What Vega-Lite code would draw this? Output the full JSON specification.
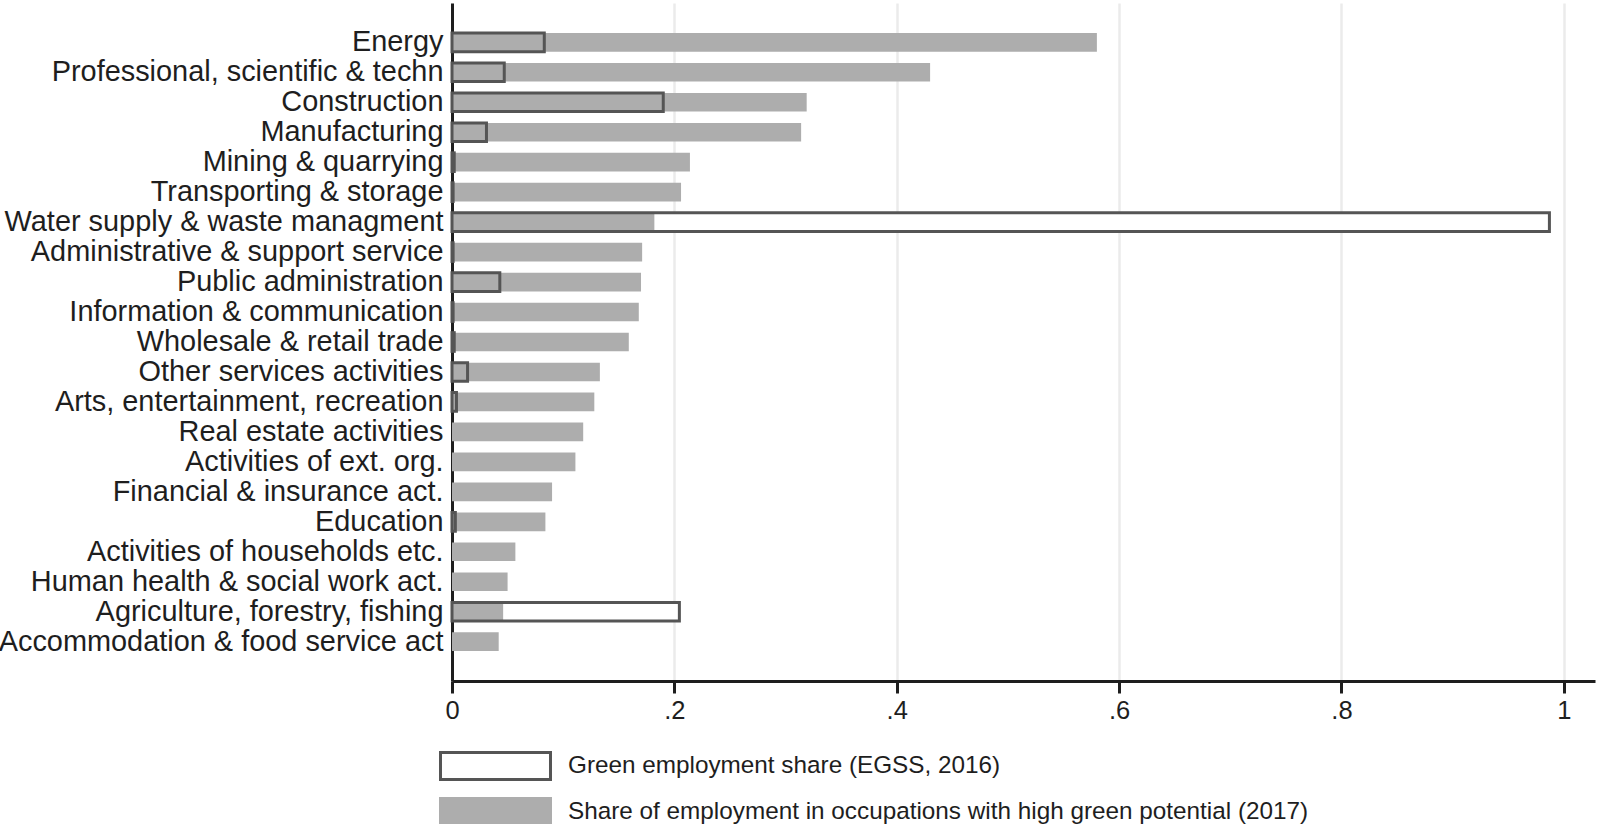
{
  "$schema": "https://vega.github.io/schema/vega-lite/v6.json",
  "width": 1143,
  "height": 678,
  "autosize": {"type": "none"},
  "padding": {"left": 452, "top": 3, "right": 5, "bottom": 143},
  "background": "white",
  "config": {
    "view": {"stroke": null},
    "font": "Liberation Sans"
  },
  "data": {
    "values": [
      {"sector": "Energy", "green": 0.083, "potential": 0.580},
      {"sector": "Professional, scientific & techn", "green": 0.047, "potential": 0.430},
      {"sector": "Construction", "green": 0.190, "potential": 0.319},
      {"sector": "Manufacturing", "green": 0.031, "potential": 0.314},
      {"sector": "Mining & quarrying", "green": 0.002, "potential": 0.214},
      {"sector": "Transporting & storage", "green": 0.001, "potential": 0.206},
      {"sector": "Water supply & waste managment", "green": 0.987, "potential": 0.182},
      {"sector": "Administrative & support service", "green": 0.001, "potential": 0.171},
      {"sector": "Public administration", "green": 0.043, "potential": 0.170},
      {"sector": "Information & communication", "green": 0.001, "potential": 0.168},
      {"sector": "Wholesale & retail trade", "green": 0.002, "potential": 0.159},
      {"sector": "Other services activities", "green": 0.014, "potential": 0.133},
      {"sector": "Arts, entertainment, recreation", "green": 0.004, "potential": 0.128},
      {"sector": "Real estate activities", "green": null, "potential": 0.118},
      {"sector": "Activities of ext. org.", "green": null, "potential": 0.111},
      {"sector": "Financial & insurance act.", "green": null, "potential": 0.090},
      {"sector": "Education", "green": 0.003, "potential": 0.084},
      {"sector": "Activities of households etc.", "green": null, "potential": 0.057},
      {"sector": "Human health & social work act.", "green": null, "potential": 0.050},
      {"sector": "Agriculture, forestry, fishing", "green": 0.2045, "potential": 0.046},
      {"sector": "Accommodation & food service act", "green": null, "potential": 0.042}
    ]
  },
  "encoding": {
    "y": {
      "field": "sector",
      "type": "nominal",
      "sort": null,
      "scale": {
        "domain": ["Energy", "Professional, scientific & techn", "Construction", "Manufacturing", "Mining & quarrying", "Transporting & storage", "Water supply & waste managment", "Administrative & support service", "Public administration", "Information & communication", "Wholesale & retail trade", "Other services activities", "Arts, entertainment, recreation", "Real estate activities", "Activities of ext. org.", "Financial & insurance act.", "Education", "Activities of households etc.", "Human health & social work act.", "Agriculture, forestry, fishing", "Accommodation & food service act"],
        "paddingInner": 0.377,
        "paddingOuter": 1.1
      },
      "axis": {
        "title": null,
        "ticks": false,
        "labelFontSize": 28.9,
        "labelColor": "#1e1e1e",
        "labelPadding": 9,
        "labelLimit": 1000,
        "labelOverlap": false,
        "domainColor": "#1e1e1e",
        "domainWidth": 3,
        "grid": false
      }
    }
  },
  "layer": [
    {
      "mark": {"type": "bar", "fill": "white", "strokeWidth": 0},
      "encoding": {
        "x": {
          "field": "green",
          "type": "quantitative",
          "scale": {"domain": [0, 1.028], "nice": false, "zero": true},
          "axis": {
            "title": null,
            "values": [0, 0.2, 0.4, 0.6, 0.8, 1],
            "labelExpr": "datum.value == 0 ? '0' : (datum.value == 1 ? '1' : replace(format(datum.value, '.1f'), '0.', '.'))",
            "labelFontSize": 25.5,
            "labelColor": "#1e1e1e",
            "labelPadding": 5,
            "tickSize": 12,
            "tickWidth": 3,
            "tickColor": "#1e1e1e",
            "domainColor": "#1e1e1e",
            "domainWidth": 3,
            "grid": true,
            "gridColor": "#ebebeb",
            "gridWidth": 2.5,
            "labelFlush": false
          }
        }
      }
    },
    {
      "mark": {"type": "bar", "strokeWidth": 0},
      "encoding": {
        "x": {"field": "potential", "type": "quantitative"},
        "fill": {
          "datum": "Share of employment in occupations with high green potential (2017)",
          "type": "nominal",
          "scale": {
            "domain": ["Green employment share (EGSS, 2016)", "Share of employment in occupations with high green potential (2017)"],
            "range": ["white", "#adadad"]
          },
          "legend": {
            "title": null,
            "orient": "none",
            "legendX": -13,
            "legendY": 748,
            "direction": "vertical",
            "symbolType": "M-1,-1H7.148V1H-1Z",
            "symbolSize": 729,
            "symbolStrokeWidth": 3,
            "symbolOpacity": 1,
            "labelFontSize": 24.3,
            "labelColor": "#1e1e1e",
            "labelOffset": 99,
            "labelLimit": 1500,
            "rowPadding": 6,
            "padding": 0
          }
        },
        "stroke": {
          "datum": "Share of employment in occupations with high green potential (2017)",
          "type": "nominal",
          "scale": {
            "domain": ["Green employment share (EGSS, 2016)", "Share of employment in occupations with high green potential (2017)"],
            "range": ["#555555", "#adadad"]
          },
          "legend": {
            "title": null,
            "orient": "none",
            "legendX": -13,
            "legendY": 748,
            "direction": "vertical",
            "symbolType": "M-1,-1H7.148V1H-1Z",
            "symbolSize": 729,
            "symbolStrokeWidth": 3,
            "symbolOpacity": 1,
            "labelFontSize": 24.3,
            "labelColor": "#1e1e1e",
            "labelOffset": 99,
            "labelLimit": 1500,
            "rowPadding": 6,
            "padding": 0
          }
        }
      }
    },
    {
      "mark": {"type": "bar", "fill": null, "fillOpacity": 0, "stroke": "#555555", "strokeWidth": 3},
      "encoding": {
        "x": {"field": "green", "type": "quantitative"}
      }
    }
  ]
}
